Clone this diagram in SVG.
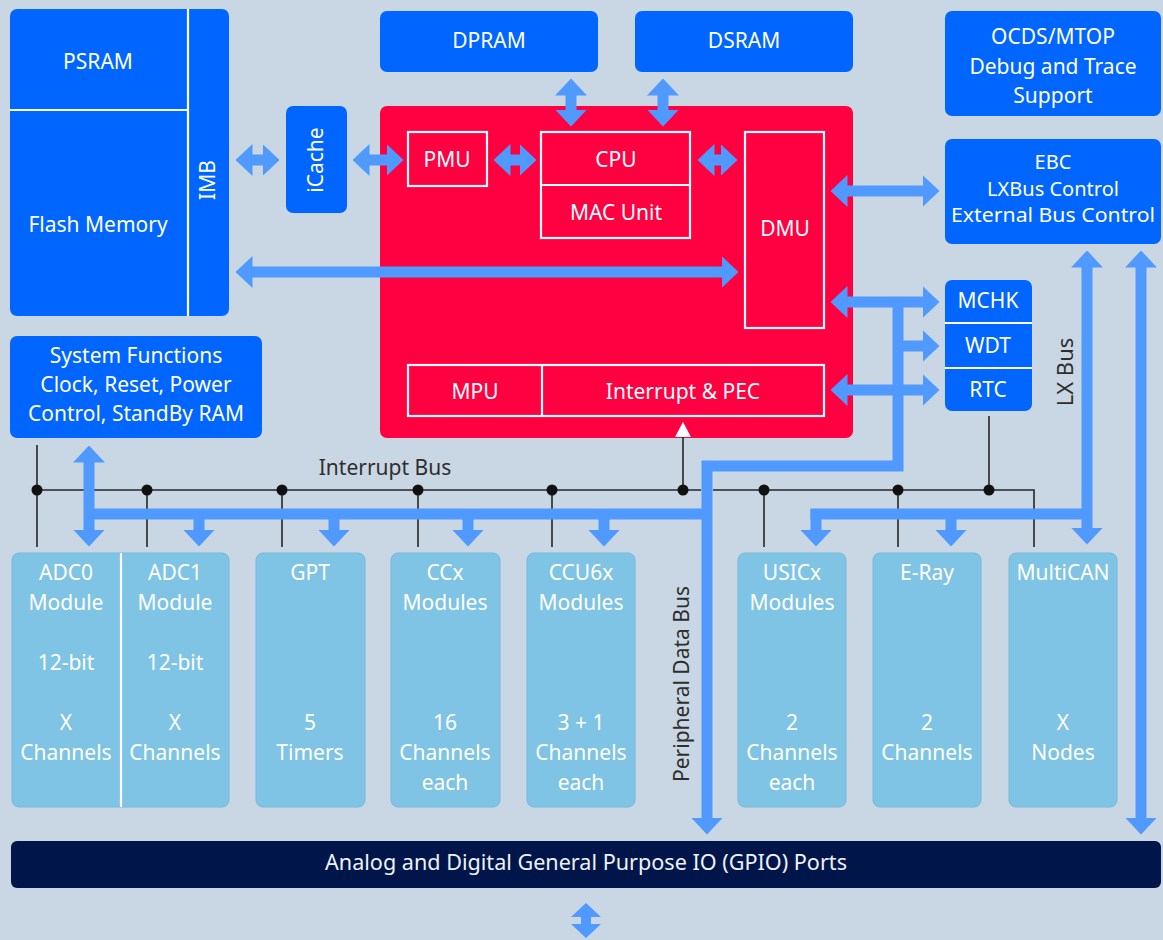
<svg xmlns="http://www.w3.org/2000/svg" width="1163" height="940" viewBox="0 0 1163 940">
<defs>
<style>
.blue{fill:#0066ff}
.red{fill:#ff0040}
.mod{fill:#80c4e5;stroke:#74b8dc;stroke-width:1}
.t{font-family:"Noto Sans","Open Sans",sans-serif;font-size:21px;fill:#ffffff;text-anchor:middle}
.dk{fill:#2e2e2e}
.wl{stroke:#ffffff;stroke-width:2.2;fill:none}
.bus{stroke:#4f99ff;stroke-width:11;fill:none}
.da{stroke:#4f99ff;stroke-width:11;fill:none;marker-start:url(#ah);marker-end:url(#ah)}
.sa{stroke:#4f99ff;stroke-width:11;fill:none;marker-end:url(#ah)}
.il{stroke:#262626;stroke-width:1.6;fill:none}
</style>
<marker id="ah" viewBox="0 0 17 32" refX="0.5" refY="16" markerWidth="17" markerHeight="32" markerUnits="userSpaceOnUse" orient="auto-start-reverse">
<path d="M0,0 L17,16 L0,32 Z" fill="#4f99ff"/>
</marker>
</defs>
<rect x="0" y="0" width="1163" height="940" fill="#c9d6e3"/>

<g id="psram-flash-imb">
<rect class="blue" x="10" y="9" width="219" height="307" rx="7"/>
<line class="wl" x1="10" y1="110" x2="187" y2="110"/>
<line class="wl" x1="188" y1="9" x2="188" y2="316"/>
<text class="t" x="98" y="69">PSRAM</text>
<text class="t" x="98" y="232">Flash Memory</text>
<text class="t" transform="translate(208,180) rotate(-90)" y="7">IMB</text>
</g>

<g id="icache">
<rect class="blue" x="286" y="106" width="61" height="107" rx="7"/>
<text class="t" transform="translate(316,160) rotate(-90)" y="7">iCache</text>
</g>

<g id="dpram">
<rect class="blue" x="380" y="11" width="218" height="61" rx="7"/>
<text class="t" x="489" y="48">DPRAM</text>
</g>
<g id="dsram">
<rect class="blue" x="635" y="11" width="218" height="61" rx="7"/>
<text class="t" x="744" y="48">DSRAM</text>
</g>

<g id="ocds">
<rect class="blue" x="945" y="11" width="216" height="105" rx="7"/>
<text class="t" x="1053" y="44">OCDS/MTOP</text>
<text class="t" x="1053" y="74">Debug and Trace</text>
<text class="t" x="1053" y="103">Support</text>
</g>

<g id="ebc">
<rect class="blue" x="945" y="139" width="216" height="105" rx="7"/>
<text class="t" x="1053" y="169" style="font-size:20px">EBC</text>
<text class="t" x="1053" y="196" style="font-size:20px">LXBus Control</text>
<text class="t" x="1053" y="222" style="font-size:20px" textLength="204" lengthAdjust="spacingAndGlyphs">External Bus Control</text>
</g>

<g id="core">
<rect class="red" x="380" y="106" width="473" height="332" rx="7"/>
</g>
<g id="pmu">
<rect class="wl" x="408" y="132" width="79" height="54"/>
<text class="t" x="447" y="167">PMU</text>
</g>
<g id="cpu">
<rect class="wl" x="541" y="132" width="149" height="106"/>
<line class="wl" x1="541" y1="185" x2="690" y2="185"/>
<text class="t" x="616" y="167">CPU</text>
<text class="t" x="616" y="220">MAC Unit</text>
</g>
<g id="dmu">
<rect class="wl" x="745" y="132" width="79" height="196"/>
<text class="t" x="785" y="236">DMU</text>
</g>
<g id="mpu-interrupt">
<rect class="wl" x="408" y="365" width="416" height="51"/>
<line class="wl" x1="542" y1="365" x2="542" y2="416"/>
<text class="t" x="475" y="399">MPU</text>
<text class="t" x="683" y="399">Interrupt &amp; PEC</text>
</g>

<g id="mchk-wdt-rtc">
<rect class="blue" x="945" y="280" width="87" height="131" rx="7"/>
<line class="wl" x1="945" y1="323" x2="1032" y2="323"/>
<line class="wl" x1="945" y1="368" x2="1032" y2="368"/>
<text class="t" x="988" y="308">MCHK</text>
<text class="t" x="988" y="353">WDT</text>
<text class="t" x="988" y="397">RTC</text>
</g>

<g id="system-functions">
<rect class="blue" x="10" y="336" width="252" height="102" rx="7"/>
<text class="t" x="136" y="363">System Functions</text>
<text class="t" x="136" y="392">Clock, Reset, Power</text>
<text class="t" x="136" y="421">Control, StandBy RAM</text>
</g>

<g id="adc">
<rect class="mod" x="12" y="553" width="217" height="254" rx="7"/>
<line class="wl" x1="121" y1="553" x2="121" y2="807"/>
<text class="t" x="66" y="580">ADC0</text>
<text class="t" x="66" y="610">Module</text>
<text class="t" x="66" y="670">12-bit</text>
<text class="t" x="66" y="730">X</text>
<text class="t" x="66" y="760">Channels</text>
<text class="t" x="175" y="580">ADC1</text>
<text class="t" x="175" y="610">Module</text>
<text class="t" x="175" y="670">12-bit</text>
<text class="t" x="175" y="730">X</text>
<text class="t" x="175" y="760">Channels</text>
</g>
<g id="gpt">
<rect class="mod" x="256" y="553" width="109" height="254" rx="7"/>
<text class="t" x="310" y="580">GPT</text>
<text class="t" x="310" y="730">5</text>
<text class="t" x="310" y="760">Timers</text>
</g>
<g id="ccx">
<rect class="mod" x="391" y="553" width="109" height="254" rx="7"/>
<text class="t" x="445" y="580">CCx</text>
<text class="t" x="445" y="610">Modules</text>
<text class="t" x="445" y="730">16</text>
<text class="t" x="445" y="760">Channels</text>
<text class="t" x="445" y="790">each</text>
</g>
<g id="ccu6x">
<rect class="mod" x="527" y="553" width="108" height="254" rx="7"/>
<text class="t" x="581" y="580">CCU6x</text>
<text class="t" x="581" y="610">Modules</text>
<text class="t" x="581" y="730">3 + 1</text>
<text class="t" x="581" y="760">Channels</text>
<text class="t" x="581" y="790">each</text>
</g>
<g id="usicx">
<rect class="mod" x="738" y="553" width="108" height="254" rx="7"/>
<text class="t" x="792" y="580">USICx</text>
<text class="t" x="792" y="610">Modules</text>
<text class="t" x="792" y="730">2</text>
<text class="t" x="792" y="760">Channels</text>
<text class="t" x="792" y="790">each</text>
</g>
<g id="eray">
<rect class="mod" x="873" y="553" width="108" height="254" rx="7"/>
<text class="t" x="927" y="580">E-Ray</text>
<text class="t" x="927" y="730">2</text>
<text class="t" x="927" y="760">Channels</text>
</g>
<g id="multican">
<rect class="mod" x="1009" y="553" width="108" height="254" rx="7"/>
<text class="t" x="1063" y="580">MultiCAN</text>
<text class="t" x="1063" y="730">X</text>
<text class="t" x="1063" y="760">Nodes</text>
</g>

<g id="gpio">
<rect x="11" y="841" width="1150" height="47" rx="6" fill="#00164a"/>
<text class="t" x="586" y="870" style="fill:#eef2f8" textLength="522" lengthAdjust="spacingAndGlyphs">Analog and Digital General Purpose IO (GPIO) Ports</text>
</g>

<g id="connectors">
<!-- interrupt bus (thin lines) -->
<polyline class="il" points="37,490 84,490"/>
<polyline class="il" points="94,490 701,490"/>
<polyline class="il" points="713,490 1034,490 1034,547"/>
<line class="il" x1="37" y1="445" x2="37" y2="547"/>
<line class="il" x1="147" y1="490" x2="147" y2="547"/>
<line class="il" x1="282" y1="490" x2="282" y2="547"/>
<line class="il" x1="418" y1="490" x2="418" y2="547"/>
<line class="il" x1="552" y1="490" x2="552" y2="547"/>
<line class="il" x1="683" y1="436" x2="683" y2="490"/>
<line class="il" x1="764" y1="490" x2="764" y2="547"/>
<line class="il" x1="898" y1="490" x2="898" y2="547"/>
<line class="il" x1="989" y1="416" x2="989" y2="490"/>
<polygon points="683,422 675,437 691,437" fill="#ffffff"/>
<g fill="#111111">
<circle cx="37" cy="490" r="5.5"/>
<circle cx="147" cy="490" r="5.5"/>
<circle cx="282" cy="490" r="5.5"/>
<circle cx="418" cy="490" r="5.5"/>
<circle cx="552" cy="490" r="5.5"/>
<circle cx="683" cy="490" r="5.5"/>
<circle cx="764" cy="490" r="5.5"/>
<circle cx="898" cy="490" r="5.5"/>
<circle cx="989" cy="490" r="5.5"/>
</g>

<!-- core arrows -->
<line class="da" x1="252" y1="160" x2="263" y2="160"/>
<line class="da" x1="369" y1="160" x2="387" y2="160"/>
<line class="da" x1="510" y1="160" x2="520" y2="160"/>
<line class="da" x1="714" y1="160" x2="721" y2="160"/>
<line class="da" x1="252" y1="272" x2="722" y2="272"/>
<line class="da" x1="571" y1="95" x2="571" y2="110"/>
<line class="da" x1="663" y1="95" x2="663" y2="110"/>
<line class="da" x1="847" y1="191" x2="923" y2="191"/>
<line class="da" x1="847" y1="302" x2="923" y2="302"/>
<line class="sa" x1="898" y1="346" x2="923" y2="346"/>
<line class="da" x1="847" y1="390" x2="923" y2="390"/>

<!-- peripheral data bus -->
<path class="sa" d="M898,297 V466 H707 V818"/>
<path class="bus" d="M89,514 H712"/>
<line class="da" x1="89" y1="462" x2="89" y2="530"/>
<line class="sa" x1="199" y1="514" x2="199" y2="530"/>
<line class="sa" x1="334" y1="514" x2="334" y2="530"/>
<line class="sa" x1="468" y1="514" x2="468" y2="530"/>
<line class="sa" x1="604" y1="514" x2="604" y2="530"/>

<!-- LX bus -->
<path class="sa" d="M816,509 V530"/>
<path class="bus" d="M810.5,514 H1087"/>
<line class="sa" x1="951" y1="514" x2="951" y2="530"/>
<line class="da" x1="1087" y1="267" x2="1087" y2="528"/>
<line class="da" x1="1141" y1="267" x2="1141" y2="818"/>

<!-- GPIO external -->
<polygon points="586,903 601,917 591,917 591,924 601,924 586,938 571,924 581,924 581,917 571,917" fill="#4f99ff"/>

<text class="t dk" x="385" y="475">Interrupt Bus</text>
<text class="t dk" transform="translate(683,684) rotate(-90)" y="6">Peripheral Data Bus</text>
<text class="t dk" transform="translate(1066,372) rotate(-90)" y="7" style="font-size:22px">LX Bus</text>
</g>
</svg>
